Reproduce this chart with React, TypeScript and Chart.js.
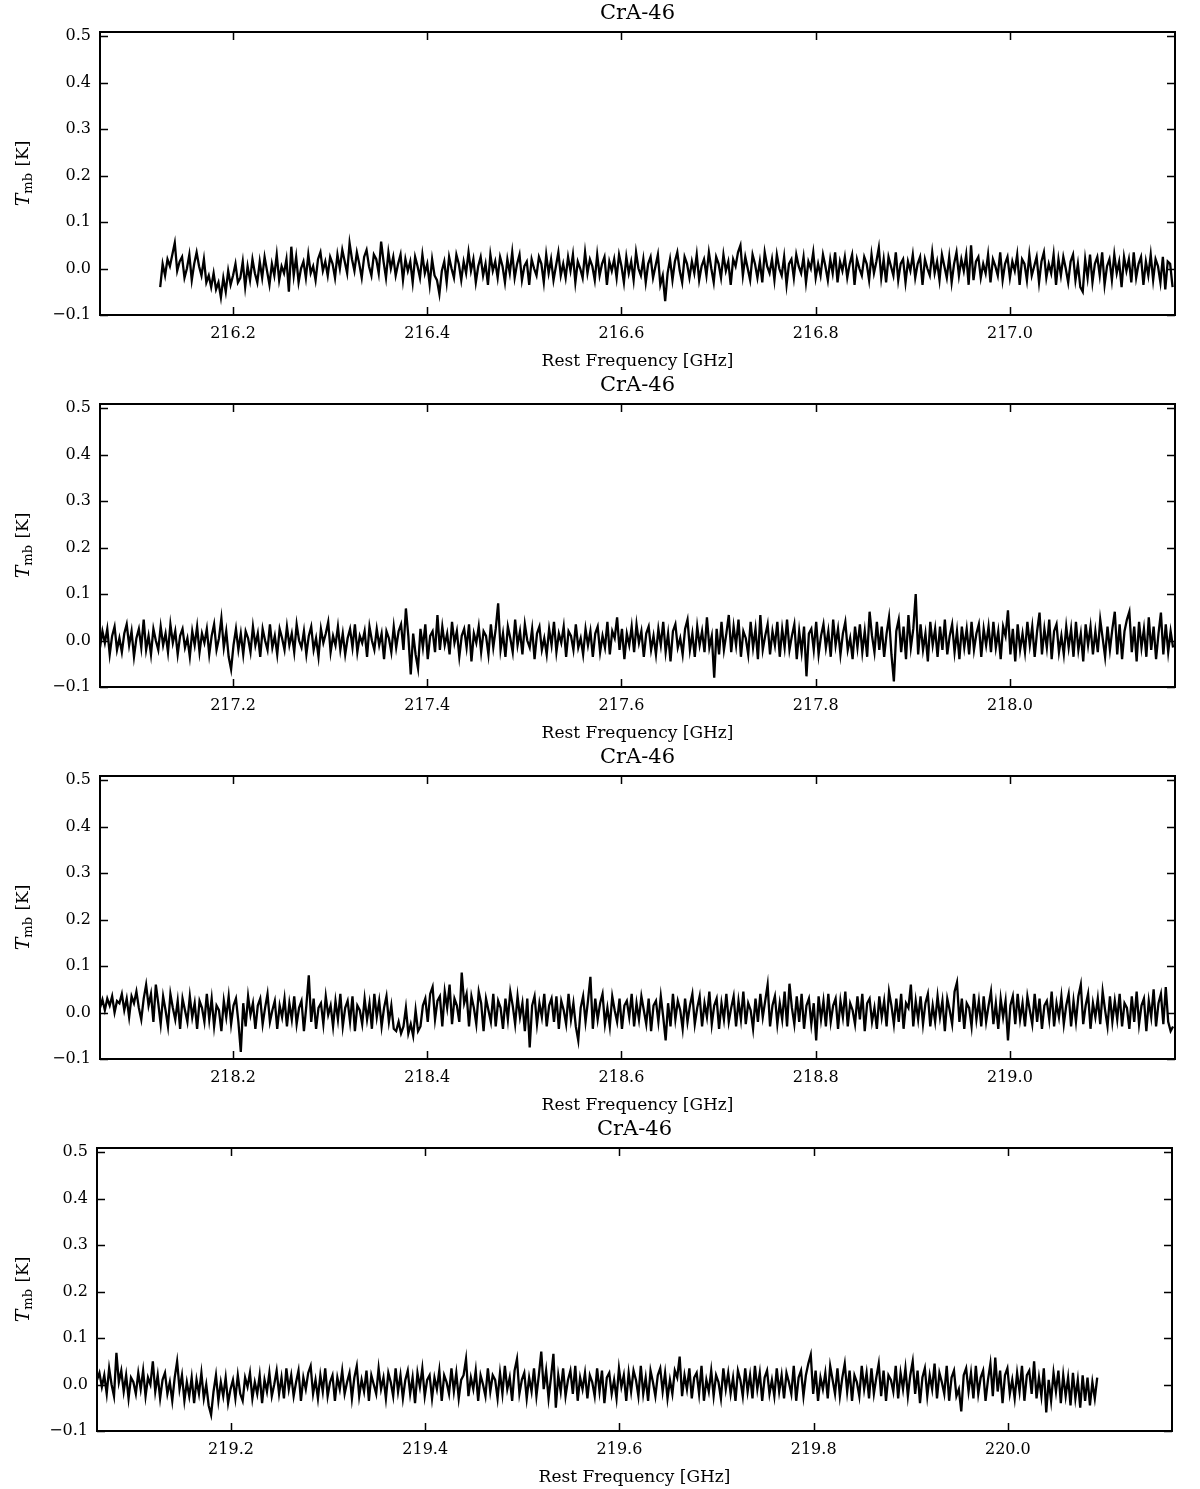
import React, { useEffect, useRef } from 'react';
import { Chart, registerables } from 'chart.js';

Chart.register(...registerables);

// ---------------- data ----------------
const TITLE = 'CrA-46';
const X_LABEL = 'Rest Frequency [GHz]';
const Y_LABEL_MAIN = 'T';
const Y_LABEL_SUB = 'mb';
const Y_LABEL_UNIT = ' [K]';
const Y_MIN = -0.1;
const Y_MAX = 0.509;
const Y_TICKS = [-0.1, 0, 0.1, 0.2, 0.3, 0.4, 0.5];
const CHANNEL_WIDTH_GHZ = 0.0025;

// Panel 1 (values in mK)
const P1_START = 216.125;
const P1_RANGE = [216.063, 217.17];
const P1_TICKS = [216.2, 216.4, 216.6, 216.8, 217.0];
const P1_MK = [
  -40, 10, -15, 20, 5, 30, 55, -5, 15, 25, -20, 0, 30, -25, 10, 35, 5, -15, 20, -30,
  -15, -40, -10, -45, -30, -62, -20, -50, -5, -35, -15, 10, -30, -20, 15, -40, 5, -25, 20, -10,
  -30, 15, -20, 25, -5, -35, 10, -15, 30, -25, 5, -10, 20, -50, 47, -15, 25, -30, 0, 15,
  -20, 30, -10, 5, -25, 20, 35, -5, 15, -15, 25, 10, -20, 30, 0, 40, 15, -10, 55, 20,
  -5, 35, 10, -20, 25, 40, 5, -15, 30, 20, -10, 58, 15, -20, 35, 0, 25, -15, 10, 30,
  -25, 20, -5, 15, -30, 25, 5, -20, 30, -10, 10, -35, 20, -15, -25, -55, -5, 15, -30, 25,
  0, -20, 30, 10, -25, 15, -10, 35, -5, 20, -30, 5, 25, -15, 10, -35, 30, -5, 15, -20,
  25, 5, -30, 20, -10, 35, -20, 10, 30, -25, 5, 15, -35, 20, 0, -15, 25, 10, -30, 30,
  -10, 20, -25, 5, 35, -15, 10, -20, 25, -5, 30, -30, 15, 0, -20, 35, -10, 20, 5, -25,
  30, -15, 10, 25, -35, 15, -5, 20, -20, 30, 5, -30, 25, -10, 15, -25, 35, 0, -15, 20,
  -30, 10, 25, -20, 5, 30, -35, -15, -70, -10, 20, -25, 15, 35, -5, -30, 25, 10, -20, 15,
  -10, 30, -25, 5, 20, -15, 35, 0, -30, 25, 10, -20, 30, -5, 15, -35, 20, 5, 35, 50,
  -15, 25, 0, -25, 30, 10, -20, 15, -30, 35, 5, -10, 20, -25, 30, 0, -15, 25, -35, 10,
  20, -20, 30, 5, -10, 25, -30, 15, 0, 35, -20, 10, -15, 30, 5, -25, 20, -10, 35, -30,
  15, -5, 25, -20, 10, 30, -35, 20, 0, -15, 25, 10, -25, 30, -10, 15, 45, -20, 20, -30,
  25, 5, -15, 35, -25, 10, 20, -30, 15, -5, 30, -20, 10, 25, -35, 20, 0, -15, 35, -10,
  15, -25, 30, 5, -20, 25, -30, 10, 35, -15, 20, -5, 30, -35, 50, -25, 15, 25, -20, 10,
  -10, 30, -30, 20, 5, -15, 35, -25, 10, 25, -20, 15, -5, 30, -35, 20, 10, -25, 30, -15,
  5, 25, -30, 15, 35, -20, 10, -10, 30, -35, 20, -15, 25, 0, -30, 15, 30, -25, 10, -40,
  -50, 20, -20, 30, -30, 10, 25, -15, 35, -35, 5, 20, -25, 30, -10, 15, -40, 25, -5, 20,
  -30, 35, -20, 10, 25, -35, 15, -15, 30, -25, 20, 5, -30, 25, -45, 15, 10, -40,
];

// Panel 2
const P2_START = 217.063;
const P2_RANGE = [217.063, 218.17];
const P2_TICKS = [217.2, 217.4, 217.6, 217.8, 218.0];
const P2_MK = [
  -15, 20, -5, 25, -30, 10, 30, -20, 5, -25, 15, 35, -10, 20, -35, 5, 25, -15, 45, -20,
  10, -30, 25, 0, -20, 30, -10, 15, -25, 35, -5, 20, -30, 10, 25, -15, 5, -35, 20, -10,
  30, -25, 15, -5, 25, -30, 10, 35, -20, 5, 48, -15, 20, -35, -62, -10, 25, -20, 15, -30,
  20, 5, -25, 30, -10, 15, -35, 25, 0, -20, 35, -15, 10, -30, 25, 5, -20, 30, -10, 15,
  -25, 35, 0, -15, 20, -30, 10, 30, -20, 5, -35, 25, -5, 15, 40, -25, 10, -10, 30, -20,
  15, -30, 5, 25, -15, 35, -25, 10, -5, 20, -35, 30, 0, -20, 25, -10, 15, -40, 20, 5,
  -25, 30, -15, 20, 35, -20, 69, 10, -73, 15, -30, -60, 25, -15, 35, -40, 10, 20, -25, 55,
  -20, 30, -10, 15, -30, 40, -5, 20, -35, 10, 25, -15, 35, -45, 15, -5, 30, -25, 20, 10,
  -30, 35, -15, 25, 80, -20, 15, -35, 30, 5, -25, 45, -10, 20, -30, 35, 0, -15, 25, -40,
  15, 30, -20, 5, -30, 25, -10, 40, -25, 15, -5, 30, -35, 20, 10, -20, 35, -15, 5, -30,
  25, -10, 20, -35, 15, 30, -25, 10, -15, 40, -30, 20, 5, 50, -20, 25, -40, 15, -10, 30,
  -25, 35, -5, 20, -35, 15, 30, -20, 10, -30, 25, -10, 40, -25, 15, -45, 20, 35, -15, 5,
  -30, 25, 45, -20, 15, -35, 30, -10, 20, -25, 50, -15, 10, -80, 25, -30, 40, -20, 15, 55,
  -25, 30, -10, 45, -35, 20, 5, -30, 40, -15, 25, -40, 55, -20, 10, 35, -30, 20, -10, 40,
  -35, 25, -15, 45, -20, 10, 35, -40, 20, -25, 30, -77, 15, 25, -20, 40, -30, 10, 35, -15,
  20, -35, 45, -10, 25, -30, 15, 40, -20, 5, -40, 30, -15, 35, -25, 20, -35, 62, 10, -25,
  40, -20, 30, -35, 15, 50, -30, -88, 20, 45, -25, 30, -40, 55, -15, 25, 100, -30, 35, -20,
  15, -45, 40, -10, 25, -35, 30, -20, 45, -30, 10, 35, -25, 20, -40, 30, -15, 25, -30, 40,
  -20, 15, 35, -35, 25, -10, 30, -25, 40, -15, 20, -40, 30, 10, 65, -30, 25, -45, 35, -20,
  15, -25, 40, -10, 30, -35, 20, 60, -30, 25, -15, 45, -40, 20, 35, -25, 10, -30, 30, -15,
  25, -35, 40, -20, 15, -45, 35, -10, 30, -30, 20, -25, 45, 5, -35, 30, -20, 25, 62, -30,
  35, -40, 20, 45, 62, -25, 30, -45, 40, -15, 25, -35, 50, -20, 30, -40, 15, 60, -30, 35,
  -25, 20, -15,
];

// Panel 3
const P3_START = 218.063;
const P3_RANGE = [218.063, 219.17];
const P3_TICKS = [218.2, 218.4, 218.6, 218.8, 219.0];
const P3_MK = [
  10, 28, 5, 30, 15, 35, 0, 25, 20, 40, 5, 30, -10, 35, 20, 45, 10, -15, 30, 60,
  15, 40, -20, 60, 20, -25, 35, 5, -30, 40, 10, -15, 25, -35, 30, 5, -20, 35, -10, 20,
  -35, 25, 10, -20, 40, -15, 30, -30, 15, 5, -40, 25, -10, 35, -25, 15, 30, -20, -85, 20,
  -30, 35, -5, 20, -35, 15, 30, -25, 10, 40, -20, 5, 25, -35, 15, -10, 30, -30, 20, -15,
  35, -25, 10, 25, -40, 15, 80, -20, 30, -35, 10, 20, -25, 35, -5, 15, -30, 25, -15, 40,
  -30, 10, 25, -20, 35, -40, 15, 5, -25, 30, -15, 20, -35, 40, -10, 25, -30, 10, 35, -20,
  15, -35, -40, -20, -45, -30, 10, -45, -25, -50, 5, -40, -30, 15, 30, -20, 40, 55, -15, 25,
  35, -30, 45, 10, 60, -25, 30, 15, -20, 86, 20, 40, -30, 35, 10, -25, 45, 20, -40, 30,
  5, -20, 40, -30, 25, 10, -35, 30, -15, 45, 15, -25, 35, -10, 20, -40, 30, -75, 15, 35,
  -25, 20, -10, 40, -30, 15, 30, -20, 35, -35, 25, 5, -25, 40, -15, 20, -30, -60, 10, 35,
  -20, 25, 77, -35, 30, -15, 20, 40, -25, 10, -30, 35, 5, -20, 30, -35, 15, 25, -10, 40,
  -30, 20, -15, 35, 5, -25, 30, -40, 15, 25, -20, 35, -10, -60, 20, -30, 40, -15, 25, 5,
  -35, 30, -20, 15, 40, -25, 10, 35, -30, 20, -10, 45, -25, 15, 30, -35, 20, -15, 40, -20,
  10, 35, -30, 25, -15, 45, -25, 20, 5, -35, 30, -20, 40, -10, 25, 60, -30, 15, 35, -25,
  20, -15, 45, -30, 62, 10, -25, 35, -20, 40, -35, 15, 30, -25, 20, -60, 35, -15, 25, -30,
  40, -20, 15, 30, -35, 25, -10, 45, -30, 20, 5, -25, 35, -15, 40, -40, 20, 30, -20, 10,
  -35, 35, -10, 25, -30, 45, 15, -25, 30, -20, 40, -35, 20, 10, 60, -30, 25, -15, 35, -25,
  20, 40, -30, 15, -20, 35, -10, 25, -40, 30, 5, -25, 45, 65, -20, 30, -35, 20, 10, -30,
  40, -15, 25, -30, 35, -20, 15, 45, -25, 20, -35, 30, -10, 25, -60, 15, 35, -25, 40, -15,
  20, -30, 35, 5, -25, 40, -20, 30, -35, 15, 25, -15, 45, -30, 20, -10, 35, -25, 15, 40,
  -30, 25, -20, 35, 60, -25, 15, 40, -35, 20, -10, 30, -25, 45, 5, -30, 35, -20, 25, -15,
  40, -30, 20, 10, -35, 35, -20, 45, -25, 15, 30, -40, 25, -10, 50, -30, 20, 40, -25, 55,
  -20, -40, -30,
];

// Panel 4
const P4_START = 219.062;
const P4_RANGE = [219.062, 220.169];
const P4_TICKS = [219.2, 219.4, 219.6, 219.8, 220.0];
const P4_MK = [
  10, 25, -5, 20, -20, 35, 0, -25, 68, 5, 30, -15, 20, -30, 15, 5, -20, 25, -10, 30,
  -25, 15, 0, 50, -15, 20, -30, 10, 25, -20, 5, -35, 15, 50, -10, 20, -35, 5, -25, 15,
  -40, 10, -20, 25, -30, 0, -45, -65, -15, 20, -35, 5, -25, 15, -40, -10, 10, -30, 20, -20,
  -35, 15, -5, 25, -30, 5, -20, 20, -40, 10, -15, 25, -25, 0, 30, -20, 15, -30, 35, -10,
  20, -25, 5, 30, -35, 15, -10, 25, 40, -20, 10, -30, 20, -15, 35, -25, 5, 20, -35, 15,
  -10, 30, -20, 5, 25, -30, 15, 40, -25, 10, -15, 30, -35, 20, 0, -20, 35, -10, 15, -30,
  25, 5, -25, 35, -15, 20, -30, 10, 30, -20, 15, -40, 25, -5, 35, -25, 10, 20, -30, 15,
  -10, 30, -35, 20, 5, -20, 35, -15, 25, -30, 10, 20, 55, -25, 15, -10, 30, -35, 20, 0,
  -25, 35, -15, 20, 10, -30, 25, -20, 40, -10, 15, -35, 30, 55, -20, 10, 25, -30, 15, -15,
  35, -25, 20, 71, -10, 30, -30, 15, 66, -50, 20, -15, 35, -25, 10, 30, -20, 40, -35, 15,
  -10, 25, -30, 20, 5, -25, 35, -15, 30, -40, 15, 25, -20, 10, -30, 35, -5, 20, -35, 25,
  -15, 30, 10, -25, 40, -20, 15, -35, 30, 5, -25, 20, 35, -15, 25, -30, 10, -20, 30, 15,
  60, -25, 20, -10, 35, -30, 15, 25, -20, 40, -35, 10, -15, 30, -25, 20, 5, -30, 35, -10,
  25, -20, 15, -35, 30, 10, -25, 35, -15, 20, -30, 40, -10, 25, -35, 15, 30, -20, 10, -25,
  35, -15, 20, -30, 25, 5, -20, 40, -35, 15, 30, -25, 20, 45, 64, -20, 30, -35, 15, -10,
  25, -30, 40, 10, -20, 35, -25, 15, 45, -15, 30, -35, 20, 5, -25, 40, -10, 25, -30, 35,
  -20, 15, 45, -25, 30, -35, 20, 10, -15, 40, -30, 25, -10, 35, -25, 20, 50, -20, 30, -40,
  15, 35, -25, 20, -10, 45, -30, 25, 5, -20, 40, -35, 15, 30, -25, -10, -58, 20, 35, -15,
  25, -30, 40, -20, 15, 30, -35, 10, 45, -25, 58, -15, 30, -40, 20, 35, -20, 10, -30, 25,
  -15, 40, -35, 20, 30, -20, 50, -30, 15, -25, 35, -60, 10, -35, 25, -15, 30, -40, 20, -25,
  15, -45, 25, -30, 10, -50, 20, -35, 15, -45, 5, -30, 15,
];

// ---------------- layout ----------------
const PANEL_H = 372;
const FONT = '"DejaVu Serif", "Liberation Serif", serif';

type PanelCfg = {
  start: number;
  range: number[];
  ticks: number[];
  mk: number[];
};

const PANELS: PanelCfg[] = [
  { start: P1_START, range: P1_RANGE, ticks: P1_TICKS, mk: P1_MK },
  { start: P2_START, range: P2_RANGE, ticks: P2_TICKS, mk: P2_MK },
  { start: P3_START, range: P3_RANGE, ticks: P3_TICKS, mk: P3_MK },
  { start: P4_START, range: P4_RANGE, ticks: P4_TICKS, mk: P4_MK },
];
const PANEL_LEFT = [100, 100, 100, 97];

const fmtY = (v: number) => (v < 0 ? '\u2212' + Math.abs(v).toFixed(1) : v.toFixed(1));

const decor = {
  id: 'decor',
  afterDraw(chart: any) {
    const { ctx, chartArea: a, scales } = chart;
    ctx.save();
    ctx.strokeStyle = '#000';
    ctx.lineWidth = 2;
    ctx.strokeRect(a.left, a.top, a.right - a.left, a.bottom - a.top);
    ctx.lineWidth = 1.5;
    const tl = 8;
    ctx.beginPath();
    for (const t of scales.x.ticks) {
      const px = Math.round(scales.x.getPixelForValue(t.value)) + 0.5;
      ctx.moveTo(px, a.bottom);
      ctx.lineTo(px, a.bottom - tl);
      ctx.moveTo(px, a.top);
      ctx.lineTo(px, a.top + tl);
    }
    for (const t of scales.y.ticks) {
      const py = Math.round(scales.y.getPixelForValue(t.value)) + 0.5;
      ctx.moveTo(a.left, py);
      ctx.lineTo(a.left + tl, py);
      ctx.moveTo(a.right, py);
      ctx.lineTo(a.right - tl, py);
    }
    ctx.stroke();

    const cx = (a.left + a.right) / 2;
    ctx.fillStyle = '#000';
    ctx.textAlign = 'center';
    ctx.textBaseline = 'middle';
    ctx.font = `21px ${FONT}`;
    ctx.fillText(TITLE, cx, 14);
    ctx.font = `17px ${FONT}`;
    ctx.fillText(X_LABEL, cx, 362);

    // y label with subscript
    ctx.translate(24, (a.top + a.bottom) / 2);
    ctx.rotate(-Math.PI / 2);
    ctx.textAlign = 'left';
    const fMain = `italic 19px ${FONT}`;
    const fSub = `13px ${FONT}`;
    const fUnit = `17px ${FONT}`;
    ctx.font = fMain;
    const w1 = ctx.measureText(Y_LABEL_MAIN).width;
    ctx.font = fSub;
    const w2 = ctx.measureText(Y_LABEL_SUB).width;
    ctx.font = fUnit;
    const w3 = ctx.measureText(Y_LABEL_UNIT).width;
    let x = -(w1 + w2 + w3 + 1) / 2;
    ctx.font = fMain;
    ctx.fillText(Y_LABEL_MAIN, x, 0);
    x += w1;
    ctx.font = fSub;
    ctx.fillText(Y_LABEL_SUB, x, 5);
    x += w2 + 1;
    ctx.font = fUnit;
    ctx.fillText(Y_LABEL_UNIT, x, 0);
    ctx.restore();
  },
};

function Panel({ cfg, left }: { cfg: PanelCfg; left: number }) {
  const ref = useRef<HTMLCanvasElement | null>(null);
  useEffect(() => {
    if (!ref.current) return;
    const pts = cfg.mk.map((v, i) => ({ x: cfg.start + i * CHANNEL_WIDTH_GHZ, y: v / 1000 }));
    const chart = new Chart(ref.current, {
      type: 'line',
      data: {
        datasets: [
          {
            data: pts,
            borderColor: '#000',
            borderWidth: 2.3,
            pointRadius: 0,
            tension: 0,
            fill: false,
          },
        ],
      },
      options: {
        responsive: false,
        animation: false,
        events: [],
        layout: { padding: { top: 32, right: 1200 - (left + 1075), left: 0, bottom: 0 } },
        plugins: { legend: { display: false }, tooltip: { enabled: false }, title: { display: false } },
        scales: {
          x: {
            type: 'linear',
            min: cfg.range[0],
            max: cfg.range[1],
            grid: { display: false, drawTicks: false },
            border: { display: false },
            afterBuildTicks: (s: any) => {
              s.ticks = cfg.ticks.map((v) => ({ value: v }));
            },
            afterFit: (s: any) => {
              s.height = PANEL_H - 315;
            },
            ticks: {
              color: '#000',
              font: { family: FONT, size: 16 },
              padding: 9,
              maxRotation: 0,
              autoSkip: false,
              callback: (v: any) => Number(v).toFixed(1),
            },
          },
          y: {
            type: 'linear',
            min: Y_MIN,
            max: Y_MAX,
            grid: { display: false, drawTicks: false },
            border: { display: false },
            afterBuildTicks: (s: any) => {
              s.ticks = Y_TICKS.map((v) => ({ value: v }));
            },
            afterFit: (s: any) => {
              s.width = left;
            },
            ticks: {
              color: '#000',
              font: { family: FONT, size: 16 },
              padding: 9,
              autoSkip: false,
              callback: (v: any) => fmtY(Number(v)),
            },
          },
        },
      },
      plugins: [decor],
    });
    return () => chart.destroy();
  }, [cfg, left]);
  return <canvas ref={ref} width={1200} height={PANEL_H} style={{ display: 'block', width: 1200, height: PANEL_H }} />;
}

export default function App() {
  return (
    <div style={{ position: 'absolute', left: 0, top: 0, width: 1200, height: 1489, background: '#fff' }}>
      {PANELS.map((p, i) => (
        <Panel key={i} cfg={p} left={PANEL_LEFT[i]} />
      ))}
    </div>
  );
}
